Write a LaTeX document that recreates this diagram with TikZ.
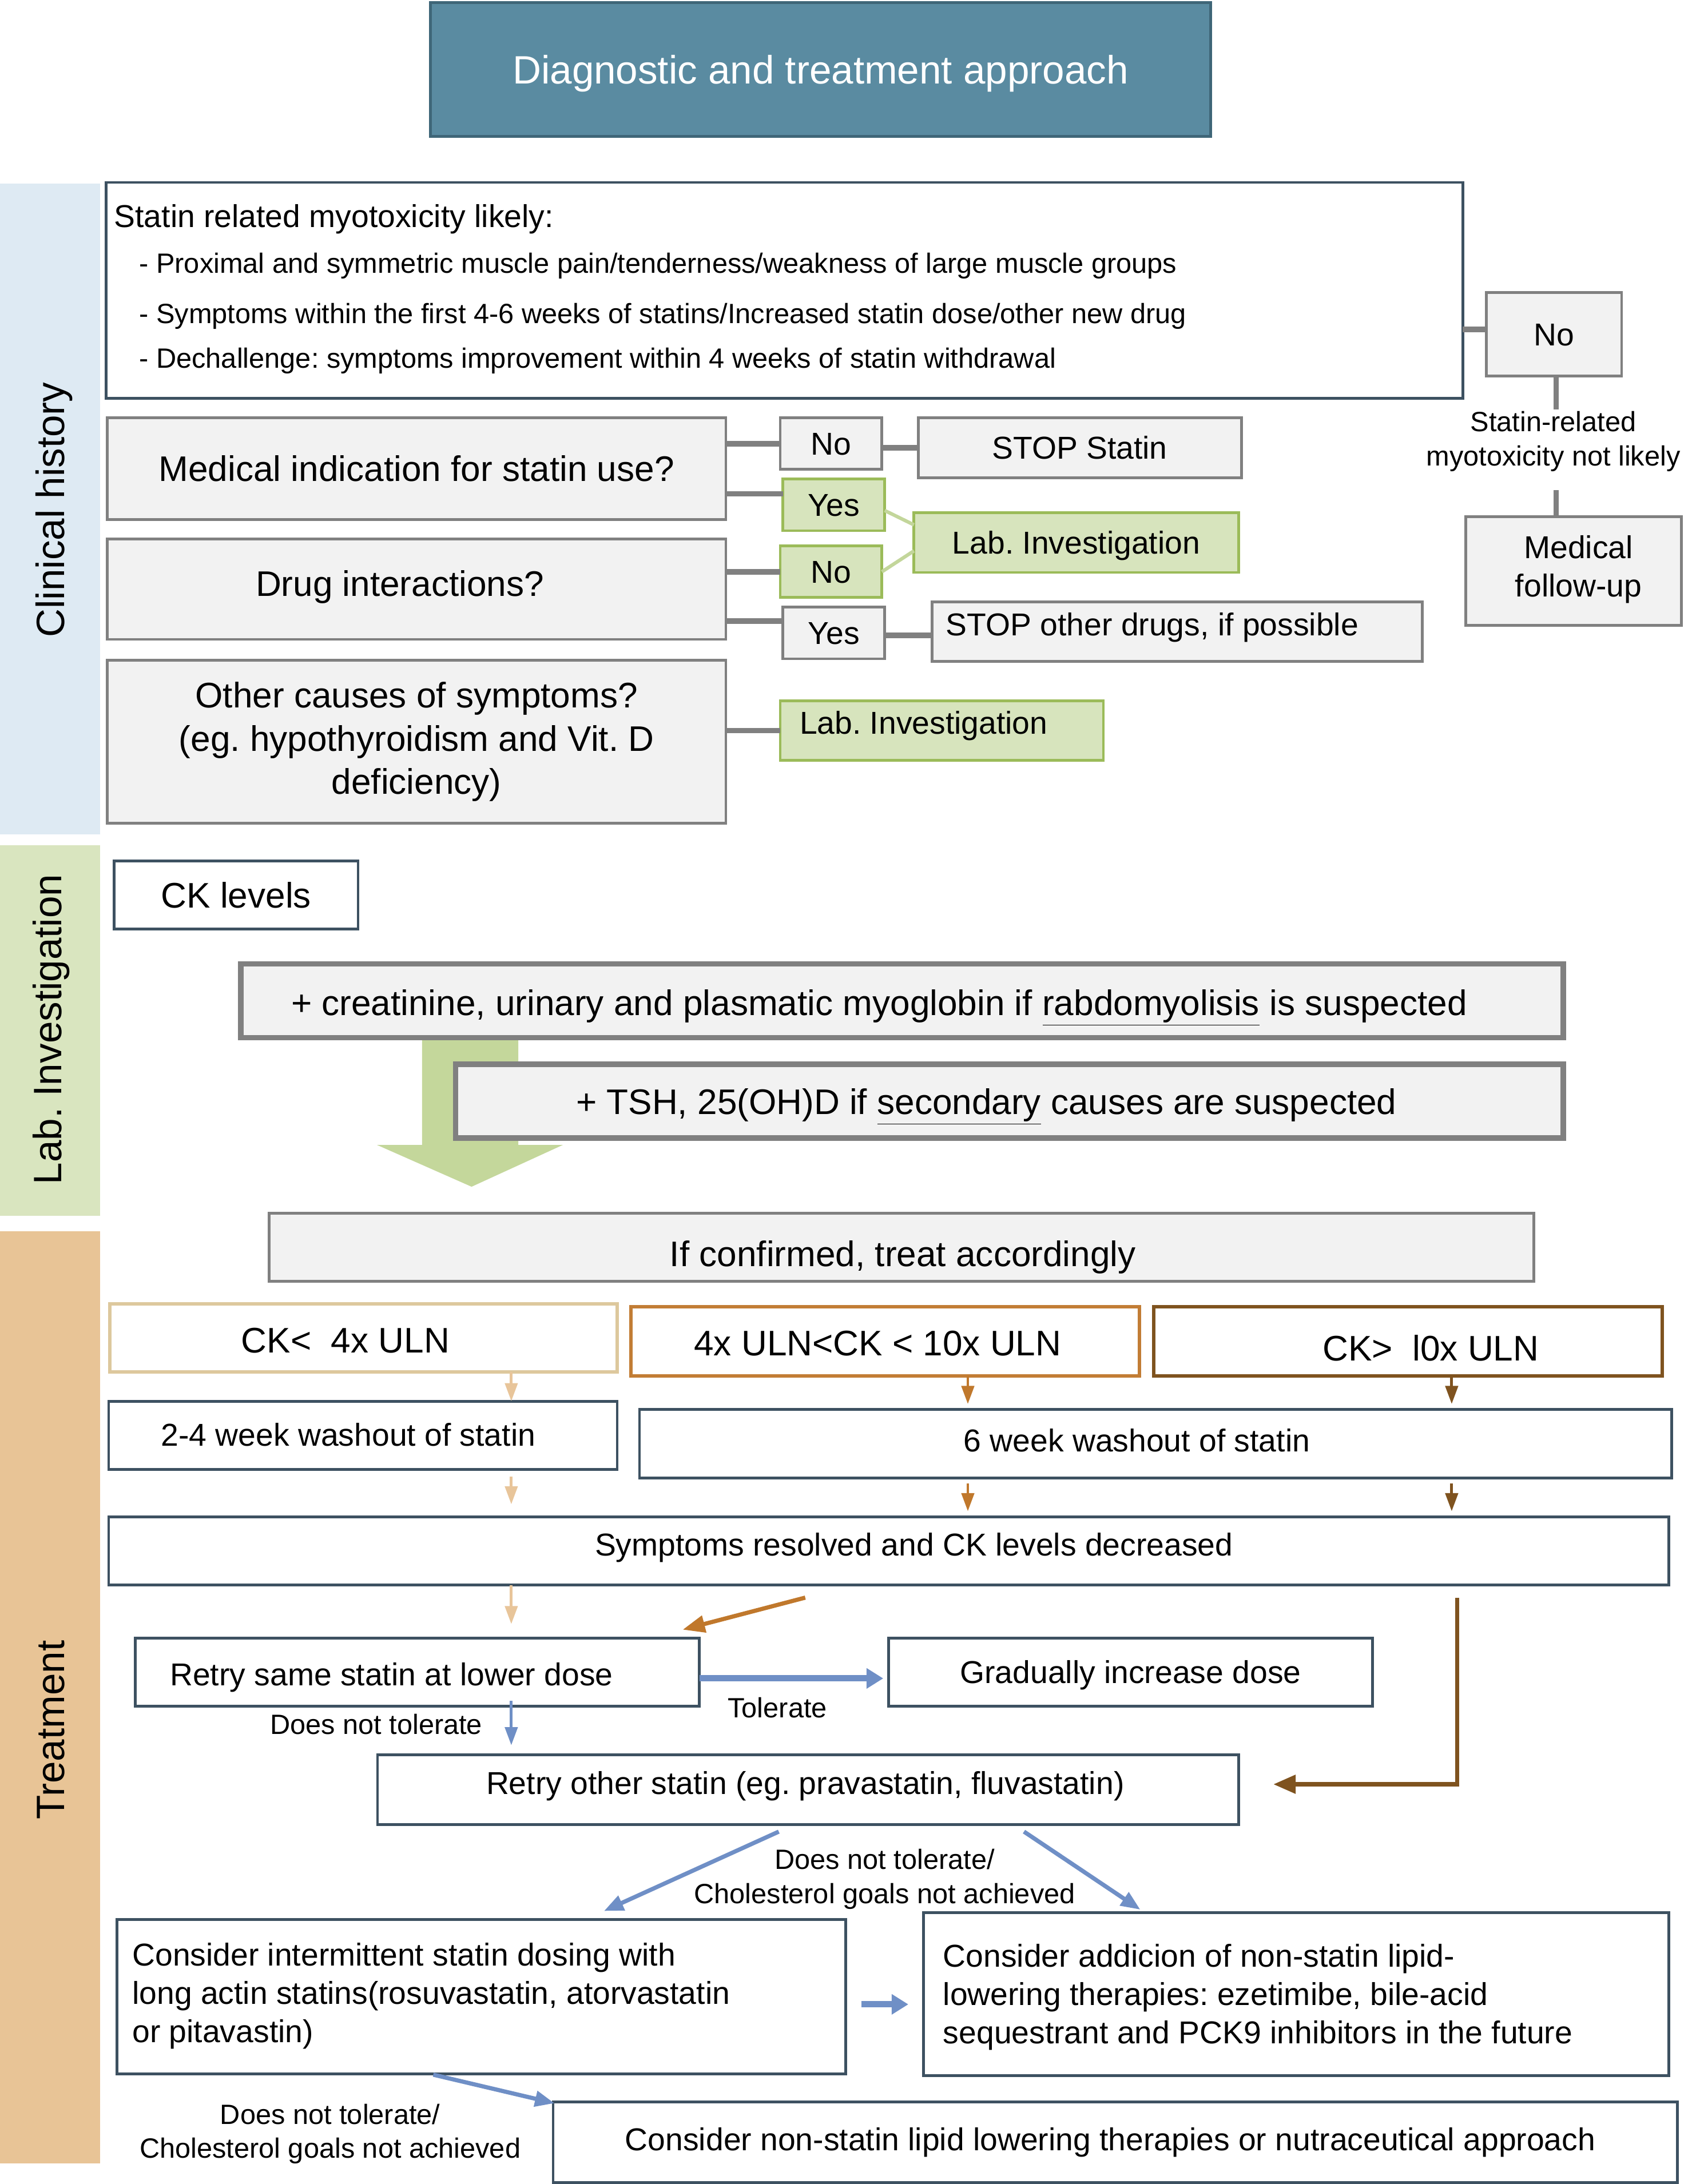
\documentclass[tikz,border=0pt]{standalone}
\usepackage{fontspec}
\setmainfont{Liberation Sans}
\usetikzlibrary{calc,arrows.meta}
\frenchspacing
\definecolor{titlefill}{HTML}{5A8BA1}
\definecolor{titleline}{HTML}{3F6678}
\definecolor{bandblue}{HTML}{DEEAF3}
\definecolor{bandgreen}{HTML}{D9E5BF}
\definecolor{bandtan}{HTML}{E8C496}
\definecolor{boxfill}{HTML}{F2F2F2}
\definecolor{boxgray}{HTML}{808080}
\definecolor{greenfill}{HTML}{D7E4BD}
\definecolor{greenline}{HTML}{9BBB59}
\definecolor{lightgreen}{HTML}{C3D69B}
\definecolor{arrowgreen}{HTML}{C4D79B}
\definecolor{slate}{HTML}{3D5161}
\definecolor{tanline}{HTML}{DDC89D}
\definecolor{tanarrow}{HTML}{E8C59A}
\definecolor{orangeline}{HTML}{C27D35}
\definecolor{orangearrow}{HTML}{C0782C}
\definecolor{brownline}{HTML}{7F531F}
\definecolor{bluearrow}{HTML}{6F8FC6}
\newcommand{\FBig}{\fontsize{25.5}{31}\selectfont}
\newcommand{\FMed}{\fontsize{22.7}{27.5}\selectfont}
\newcommand{\FSml}{\fontsize{20}{24.5}\selectfont}
\newcommand{\FTit}{\fontsize{28.4}{34}\selectfont}
\newcommand{\Bx}[7]{\node[#1, anchor=north west, minimum width=#5pt, minimum height=#6pt] (#2) at (#3,#4) {#7};}
\tikzset{
  every node/.style={inner sep=0pt, outer sep=0pt},
  fB/.style={font=\FBig, text height=18.3pt, text depth=0pt},
  fM/.style={font=\FMed, text height=16.3pt, text depth=0pt},
  fS/.style={font=\FSml, text height=14.4pt, text depth=0pt},
  fT/.style={font=\FTit, text height=20.4pt, text depth=0pt},
  graybox/.style={draw=boxgray, line width=2pt, fill=boxfill},
  greenbox/.style={draw=greenline, line width=2pt, fill=greenfill},
  slatebox/.style={draw=slate, line width=2pt, fill=white},
  heavybox/.style={draw=boxgray, line width=4pt, fill=boxfill},
  ckA/.style={draw=tanline, line width=2.5pt, fill=white},
  ckB/.style={draw=orangeline, line width=2.5pt, fill=white},
  ckC/.style={draw=brownline, line width=2.5pt, fill=white},
  gconn/.style={draw=boxgray, line width=4pt},
  lgconn/.style={draw=lightgreen, line width=2.5pt},
  tanarr/.style={draw=tanarrow, line width=2pt, -{Triangle[length=13pt,width=9pt]}},
  orarr/.style={draw=orangearrow, line width=2pt, -{Triangle[length=13pt,width=9pt]}},
  brarr/.style={draw=brownline, line width=2pt, -{Triangle[length=13pt,width=9pt]}},
  bigorarr/.style={draw=orangearrow, line width=3pt, -{Triangle[length=16pt,width=12pt]}},
  bigbrarr/.style={draw=brownline, line width=3pt, -{Triangle[length=16pt,width=13pt]}},
  bluearr/.style={draw=bluearrow, line width=2pt, -{Triangle[length=13pt,width=9pt]}},
  bluediag/.style={draw=bluearrow, line width=3pt, -{Triangle[length=14pt,width=11pt]}},
  bluethick/.style={draw=bluearrow, line width=4.5pt, -{Triangle[length=12pt,width=14pt]}},
}
\begin{document}
\begin{tikzpicture}[x=1pt,y=-1pt]
\useasboundingbox (0,0) rectangle (1220,1568);

% title
\node[draw=titleline, line width=2pt, fill=titlefill, anchor=north west, minimum width=560pt, minimum height=96pt, fT, text=white] (title) at (309,2) {Diagnostic and treatment approach};

% side bands
\Bx{fill=bandblue}{bandC}{0}{132}{72}{467}{}
\Bx{fill=bandgreen}{bandL}{0}{607}{72}{266}{}
\Bx{fill=bandtan}{bandT}{0}{884}{72}{669}{}
\node[fT, rotate=90] (t-bandC) at (36,366) {Clinical history};
\node[fT, rotate=90] (t-bandL) at (34,739) {Lab. Investigation};
\node[fT, rotate=90] (t-bandT) at (36,1242) {Treatment};

% clinical history
\Bx{slatebox}{likely}{76}{131}{974}{155}{}
\node[fM, anchor=west] (t-l0) at (82,155) {Statin related myotoxicity likely:};
\node[fS, anchor=west] (t-l1) at (100,189) {- Proximal and symmetric muscle pain/tenderness/weakness of large muscle groups};
\node[fS, anchor=west] (t-l2) at (100,225) {- Symptoms within the first 4-6 weeks of statins/Increased statin dose/other new drug};
\node[fS, anchor=west] (t-l3) at (100,257) {- Dechallenge: symptoms improvement within 4 weeks of statin withdrawal};

\Bx{graybox,fM}{no0}{1067}{210}{97}{60}{No}
\Bx{graybox}{medfu}{1052}{371}{155}{78}{}
\node[font=\FMed, align=center] (t-medfu) at (1133,409) {Medical\\follow-up};
\node[font=\FSml, align=center] (nl) at (1115,317) {Statin-related\\myotoxicity not likely};
\coordinate (g1) at (1117,294);
\coordinate (g2) at (1117,352);
\draw[gconn] ([yshift=3.5pt]no0.west) -- ([yshift=3.5pt]no0.west -| likely.east);
\draw[gconn] (no0.south -| g1) -- (g1);
\draw[gconn] (g2) -- (g2 |- medfu.north);

\Bx{graybox,fB}{med}{77}{300}{444}{73}{Medical indication for statin use?}
\Bx{graybox}{drug}{77}{387}{444}{72}{}
\node[fB] (t-drug) at (287,419) {Drug interactions?};
\Bx{graybox,font=\FBig,align=center}{other}{77}{474}{444}{117}{Other causes of symptoms?\\(eg. hypothyroidism and Vit. D\\deficiency)}

\Bx{graybox,fM}{no1}{560}{300}{73}{37}{No}
\Bx{greenbox,fM}{yes1}{562}{344}{73}{37}{Yes}
\Bx{greenbox,fM}{no2}{560}{392}{73}{37}{No}
\Bx{graybox,fM}{yes2}{562}{436}{73}{37}{Yes}
\Bx{graybox,fM}{stop1}{659}{300}{232}{43}{STOP Statin}
\Bx{greenbox,fM}{lab1}{656}{368}{233}{43}{Lab. Investigation}
\Bx{graybox}{stop2}{669}{432}{352}{43}{}
\node[fM, anchor=west] (t-stop2) at (679,448) {STOP other drugs, if possible};
\Bx{greenbox}{lab2}{560}{503}{232}{43}{}
\node[fM, anchor=west] (t-lab2) at (574,519) {Lab. Investigation};

\draw[gconn] (no1.west) -- (no1.west -| med.east);
\draw[gconn] ([yshift=8pt]yes1.west) -- ([yshift=8pt]yes1.west -| med.east);
\draw[gconn] (no2.west) -- (no2.west -| drug.east);
\draw[gconn] ([yshift=8.5pt]yes2.west) -- ([yshift=8.5pt]yes2.west -| drug.east);
\draw[gconn] (stop1.west) -- (stop1.west -| no1.east);
\draw[gconn] ([yshift=-1.5pt]yes2.east) -- ([yshift=-1.5pt]yes2.east -| stop2.west);
\draw[gconn] (lab2.west) -- (lab2.west -| other.east);
\draw[lgconn] ([yshift=-4pt]yes1.east) -- ([yshift=12.7pt]lab1.west);
\draw[lgconn] (no2.east) -- ([yshift=-6pt]lab1.west);

% lab investigation
\Bx{slatebox,fB}{ck}{82}{618}{175}{49}{CK levels}
\fill[arrowgreen] (303,745) -- (372,745) -- (372,822) -- (404,822) -- (338.5,852) -- (270.6,822) -- (303,822) -- cycle;
\Bx{heavybox}{rab}{173}{692}{949}{53}{}
\node[fB] (t-rab) at (631,720) {+ creatinine, urinary and plasmatic myoglobin if \underline{rabdomyolisis} is suspected};
\Bx{heavybox}{tsh}{327}{764}{795}{53}{}
\node[fB] (t-tsh) at (708,791) {+ TSH, 25(OH)D if \underline{secondary} causes are suspected};

% treatment
\Bx{graybox}{conf}{193}{871}{908}{49}{}
\node[fB] (t-conf) at (648,900) {If confirmed, treat accordingly};
\Bx{ckA}{c1}{79}{936}{364}{49}{}
\node[fB] (t-c1) at (248,962) {CK<~~4x ULN};
\Bx{ckB}{c2}{453}{938}{365}{50}{}
\node[fB] (t-c2) at (630,964) {4x ULN<CK < 10x ULN};
\Bx{ckC}{c3}{828}{938}{365}{50}{}
\node[fB] (t-c3) at (1027,968) {CK>~~l0x ULN};
\Bx{slatebox}{w1}{78}{1006}{365}{49}{}
\node[fM] (t-w1) at (250,1030) {2-4 week washout of statin};
\Bx{slatebox}{w2}{459}{1012}{741}{49}{}
\node[fM] (t-w2) at (816,1034) {6 week washout of statin};
\Bx{slatebox}{sym}{78}{1089}{1120}{49}{}
\node[fM] (t-sym) at (656,1109) {Symptoms resolved and CK levels decreased};
\Bx{slatebox}{retry}{97}{1176}{405}{49}{}
\node[fM] (t-retry) at (281,1202) {Retry same statin at lower dose};
\Bx{slatebox,fM}{grad}{638}{1176}{347}{49}{Gradually increase dose}
\Bx{slatebox}{ros}{271}{1260}{618}{50}{}
\node[fM] (t-ros) at (578,1280) {Retry other statin (eg. pravastatin, fluvastatin)};
\Bx{slatebox}{inter}{84}{1378}{523}{111}{}
\node[font=\FMed, align=left, anchor=west] (t-inter) at (95,1433) {Consider intermittent statin dosing with\\long actin statins(rosuvastatin, atorvastatin\\or pitavastin)};
\Bx{slatebox}{add}{663}{1373}{535}{117}{}
\node[font=\FMed, align=left, anchor=west] (t-add) at (677,1434) {Consider addicion of non-statin lipid-\\lowering therapies: ezetimibe, bile-acid\\sequestrant and PCK9 inhibitors in the future};
\Bx{slatebox}{nonst}{397}{1509}{807}{58}{}
\node[fM] (t-nonst) at (797,1536) {Consider non-statin lipid lowering therapies or nutraceutical approach};

% arrows
\coordinate (colA) at (367,0);
\coordinate (colB) at (694.7,0);
\coordinate (colC) at (1042,0);
\draw[tanarr] (c1.south -| colA) -- (w1.north -| colA);
\draw[orarr, shorten >=4pt] (c2.south -| colB) -- (w2.north -| colB);
\draw[brarr, shorten >=4pt] (c3.south -| colC) -- (w2.north -| colC);
\draw[tanarr, shorten <=5pt, shorten >=9pt] (w1.south -| colA) -- (sym.north -| colA);
\draw[orarr, shorten <=4pt, shorten >=4pt] (w2.south -| colB) -- (sym.north -| colB);
\draw[brarr, shorten <=4pt, shorten >=4pt] (w2.south -| colC) -- (sym.north -| colC);
\draw[tanarr, shorten >=10pt] (sym.south -| colA) -- (retry.north -| colA);
\coordinate (o1) at (578,1147);
\draw[bigorarr] (o1) -- ($(retry.north east)+(-12,-6)$);
\coordinate (b0) at (1046,1147);
\draw[bigbrarr] (b0) |- ([xshift=25pt,yshift=4pt]ros.east);
\draw[bluethick, shorten >=4pt] ([yshift=-4.5pt]retry.east) -- ([yshift=-4.5pt]retry.east -| grad.west);
\node[fS] (t-tol) at (558,1226) {Tolerate};
\draw[bluearr, shorten >=7pt] ($(retry.south -| colA)+(0,-4)$) -- (ros.north -| colA);
\node[fS] (t-dnt) at (270,1238) {Does not tolerate};
\draw[bluediag] ($(ros.south)+(-21,5)$) -- ($(inter.north)+(88,-6)$);
\draw[bluediag] ($(ros.south)+(155,5)$) -- ($(add.north)+(-112,-2)$);
\node[font=\FSml, align=center] (t-dnt2) at (635,1349) {Does not tolerate/\\Cholesterol goals not achieved};
\draw[bluethick] ($(inter.east)+(11.5,5.5)$) -- ($(add.west)+(-11,7.5)$);
\draw[bluediag] ($(inter.south)+(-34.5,0.5)$) -- ($(nonst.north west)+(1,1)$);
\node[font=\FSml, align=center] (t-dnt3) at (237,1532) {Does not tolerate/\\Cholesterol goals not achieved};
\end{tikzpicture}
\end{document}
